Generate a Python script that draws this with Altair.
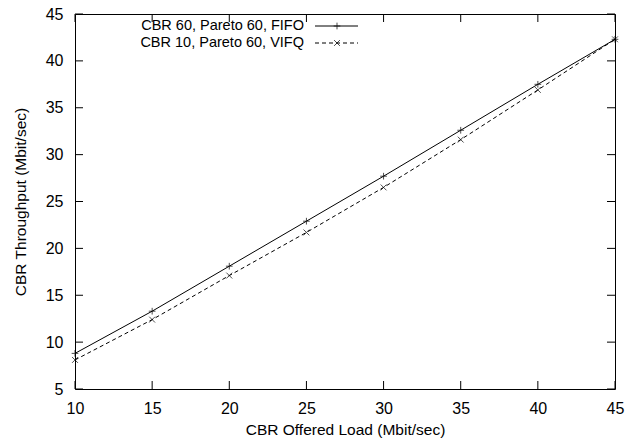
import altair as alt
import pandas as pd

loads = [10, 15, 20, 25, 30, 35, 40, 45]
fifo = [8.8, 13.3, 18.1, 22.9, 27.7, 32.6, 37.5, 42.3]
vifq = [8.1, 12.4, 17.1, 21.7, 26.5, 31.6, 36.9, 42.3]
series_names = ["CBR 60, Pareto 60, FIFO", "CBR 10, Pareto 60, VIFQ"]
x_ticks = [10, 15, 20, 25, 30, 35, 40, 45]
y_ticks = [5, 10, 15, 20, 25, 30, 35, 40, 45]

W, H = 540, 375
FONT = "Liberation Sans"
TK = 8

df = pd.DataFrame({
    "load": loads * 2,
    "thr": fifo + vifq,
    "series": [series_names[0]] * len(loads) + [series_names[1]] * len(loads),
})
df_f = df[df.series == series_names[0]]
df_v = df[df.series == series_names[1]]

PLUS = "M-1,0H1M0,-1V1"
XSHAPE = "M-1,-1L1,1M-1,1L1,-1"
PS, XS = 45, 34

xsc = alt.Scale(domain=[10, 45], nice=False, zero=False)
ysc = alt.Scale(domain=[5, 45], nice=False, zero=False)

xax = alt.Axis(values=x_ticks, tickSize=0, domain=False, grid=False, labelFont=FONT,
               labelFontSize=16, labelColor="black", labelPadding=11, labelFlush=False,
               labelOverlap=False, titleFont=FONT,
               titleFontSize=15.5, titleFontWeight="normal", titleColor="black", titlePadding=6)
yax = alt.Axis(values=y_ticks, tickSize=0, domain=False, grid=False, labelFont=FONT,
               labelFontSize=16, labelColor="black", labelPadding=12, labelFlush=False,
               labelOverlap=False, titleFont=FONT,
               titleFontSize=15.5, titleFontWeight="normal", titleColor="black", titlePadding=17)

X = alt.X("load:Q", scale=xsc, axis=xax, title="CBR Offered Load (Mbit/sec)")
Y = alt.Y("thr:Q", scale=ysc, axis=yax, title="CBR Throughput (Mbit/sec)")

line_f = alt.Chart(df_f).mark_line(color="black", strokeWidth=1).encode(x=X, y=Y)
line_v = alt.Chart(df_v).mark_line(color="black", strokeWidth=1, strokeDash=[4, 3]).encode(x=X, y=Y)
pts_f = alt.Chart(df_f).mark_point(shape=PLUS, size=PS, color="black", strokeWidth=1, filled=False).encode(
    x=alt.X("load:Q", scale=xsc), y=alt.Y("thr:Q", scale=ysc))
pts_v = alt.Chart(df_v).mark_point(shape=XSHAPE, size=XS, color="black", strokeWidth=1, filled=False).encode(
    x=alt.X("load:Q", scale=xsc), y=alt.Y("thr:Q", scale=ysc))

xt = pd.DataFrame({"load": x_ticks})
yt = pd.DataFrame({"thr": y_ticks})
xtick_b = alt.Chart(xt).mark_rule(color="black", strokeWidth=1).encode(
    x=alt.X("load:Q", scale=xsc), y=alt.value(H), y2=alt.value(H - TK))
xtick_t = alt.Chart(xt).mark_rule(color="black", strokeWidth=1).encode(
    x=alt.X("load:Q", scale=xsc), y=alt.value(0), y2=alt.value(TK))
ytick_l = alt.Chart(yt).mark_rule(color="black", strokeWidth=1).encode(
    y=alt.Y("thr:Q", scale=ysc), x=alt.value(0), x2=alt.value(TK))
ytick_r = alt.Chart(yt).mark_rule(color="black", strokeWidth=1).encode(
    y=alt.Y("thr:Q", scale=ysc), x=alt.value(W), x2=alt.value(W - TK))

one = pd.DataFrame({"a": [0]})
R1, R2 = 12, 29
TX, L0, L1, LM = 229, 240, 283, 262
leg_txt1 = alt.Chart(one).mark_text(align="right", baseline="middle", font=FONT, fontSize=14.5, color="black").encode(
    x=alt.value(TX), y=alt.value(R1), text=alt.value(series_names[0]))
leg_txt2 = alt.Chart(one).mark_text(align="right", baseline="middle", font=FONT, fontSize=14.5, color="black").encode(
    x=alt.value(TX), y=alt.value(R2), text=alt.value(series_names[1]))
leg_l1 = alt.Chart(one).mark_rule(color="black", strokeWidth=1).encode(
    x=alt.value(L0), x2=alt.value(L1), y=alt.value(R1))
leg_l2 = alt.Chart(one).mark_rule(color="black", strokeWidth=1, strokeDash=[4, 3]).encode(
    x=alt.value(L0), x2=alt.value(L1), y=alt.value(R2))
leg_p1 = alt.Chart(one).mark_point(shape=PLUS, size=PS, color="black", strokeWidth=1, filled=False).encode(
    x=alt.value(LM), y=alt.value(R1))
leg_p2 = alt.Chart(one).mark_point(shape=XSHAPE, size=XS, color="black", strokeWidth=1, filled=False).encode(
    x=alt.value(LM), y=alt.value(R2))

chart = alt.layer(
    line_f, line_v, pts_f, pts_v, xtick_b, xtick_t, ytick_l, ytick_r,
    leg_txt1, leg_txt2, leg_l1, leg_l2, leg_p1, leg_p2,
).properties(
    width=W, height=H,
    autosize=alt.AutoSizeParams(type="none"),
    padding={"left": 75, "top": 14, "right": 21, "bottom": 54},
    background="white",
).configure_view(stroke="black", strokeWidth=1)

chart.save("out.html", embed_options={"renderer": "svg", "actions": False})
